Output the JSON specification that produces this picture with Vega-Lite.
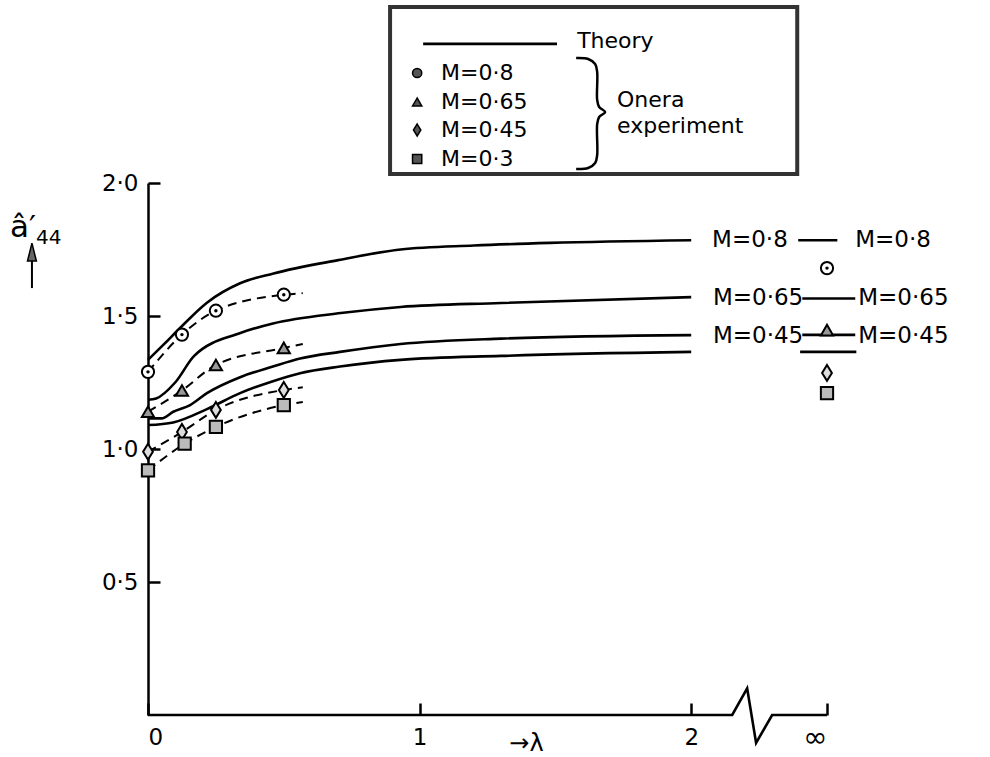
{
  "$schema": "https://vega.github.io/schema/vega-lite/v6.json",
  "width": 679,
  "height": 532,
  "autosize": {"type": "none"},
  "padding": {"left": 148, "top": 183, "right": 163, "bottom": 42},
  "background": "white",
  "config": {"view": {"stroke": null}, "font": "DejaVu Sans", "text": {"font": "DejaVu Sans"}},
  "datasets": {
    "theory": [
      {"M": "M=0·8", "lam": 0, "val": 1.335}, {"M": "M=0·8", "lam": 0.06, "val": 1.395}, {"M": "M=0·8", "lam": 0.118, "val": 1.455}, {"M": "M=0·8", "lam": 0.217, "val": 1.55}, {"M": "M=0·8", "lam": 0.339, "val": 1.623}, {"M": "M=0·8", "lam": 0.462, "val": 1.66}, {"M": "M=0·8", "lam": 0.7, "val": 1.71}, {"M": "M=0·8", "lam": 0.93, "val": 1.75}, {"M": "M=0·8", "lam": 1.2, "val": 1.765}, {"M": "M=0·8", "lam": 1.48, "val": 1.775}, {"M": "M=0·8", "lam": 2.0, "val": 1.785},
      {"M": "M=0·65", "lam": 0, "val": 1.185}, {"M": "M=0·65", "lam": 0.03, "val": 1.19}, {"M": "M=0·65", "lam": 0.1, "val": 1.25}, {"M": "M=0·65", "lam": 0.17, "val": 1.35}, {"M": "M=0·65", "lam": 0.34, "val": 1.436}, {"M": "M=0·65", "lam": 0.46, "val": 1.472}, {"M": "M=0·65", "lam": 0.71, "val": 1.511}, {"M": "M=0·65", "lam": 0.93, "val": 1.534}, {"M": "M=0·65", "lam": 1.3, "val": 1.549}, {"M": "M=0·65", "lam": 2.0, "val": 1.571},
      {"M": "M=0·45", "lam": 0, "val": 1.115}, {"M": "M=0·45", "lam": 0.05, "val": 1.115}, {"M": "M=0·45", "lam": 0.093, "val": 1.14}, {"M": "M=0·45", "lam": 0.155, "val": 1.165}, {"M": "M=0·45", "lam": 0.217, "val": 1.21}, {"M": "M=0·45", "lam": 0.339, "val": 1.27}, {"M": "M=0·45", "lam": 0.46, "val": 1.31}, {"M": "M=0·45", "lam": 0.56, "val": 1.34}, {"M": "M=0·45", "lam": 0.707, "val": 1.365}, {"M": "M=0·45", "lam": 0.93, "val": 1.395}, {"M": "M=0·45", "lam": 1.3, "val": 1.415}, {"M": "M=0·45", "lam": 2.0, "val": 1.428},
      {"M": "M=0·3", "lam": 0, "val": 1.09}, {"M": "M=0·3", "lam": 0.093, "val": 1.1}, {"M": "M=0·3", "lam": 0.217, "val": 1.15}, {"M": "M=0·3", "lam": 0.339, "val": 1.21}, {"M": "M=0·3", "lam": 0.46, "val": 1.255}, {"M": "M=0·3", "lam": 0.56, "val": 1.285}, {"M": "M=0·3", "lam": 0.707, "val": 1.31}, {"M": "M=0·3", "lam": 0.93, "val": 1.335}, {"M": "M=0·3", "lam": 1.3, "val": 1.35}, {"M": "M=0·3", "lam": 2.0, "val": 1.365}
    ],
    "exp": [
      {"M": "M=0·8", "lam": 0, "val": 1.29}, {"M": "M=0·8", "lam": 0.125, "val": 1.43}, {"M": "M=0·8", "lam": 0.25, "val": 1.52}, {"M": "M=0·8", "lam": 0.5, "val": 1.58}, {"M": "M=0·8", "lam": 2.5, "val": 1.68},
      {"M": "M=0·65", "lam": 0, "val": 1.14}, {"M": "M=0·65", "lam": 0.125, "val": 1.22}, {"M": "M=0·65", "lam": 0.25, "val": 1.316}, {"M": "M=0·65", "lam": 0.5, "val": 1.38}, {"M": "M=0·65", "lam": 2.5, "val": 1.447},
      {"M": "M=0·45", "lam": 0, "val": 0.99}, {"M": "M=0·45", "lam": 0.125, "val": 1.064}, {"M": "M=0·45", "lam": 0.25, "val": 1.147}, {"M": "M=0·45", "lam": 0.5, "val": 1.222}, {"M": "M=0·45", "lam": 2.5, "val": 1.286},
      {"M": "M=0·3", "lam": 0, "val": 0.92}, {"M": "M=0·3", "lam": 0.135, "val": 1.02}, {"M": "M=0·3", "lam": 0.25, "val": 1.083}, {"M": "M=0·3", "lam": 0.5, "val": 1.165}, {"M": "M=0·3", "lam": 2.5, "val": 1.21}
    ],
    "expLine": [
      {"M": "M=0·8", "lam": 0, "val": 1.29}, {"M": "M=0·8", "lam": 0.125, "val": 1.43}, {"M": "M=0·8", "lam": 0.25, "val": 1.52}, {"M": "M=0·8", "lam": 0.5, "val": 1.58}, {"M": "M=0·8", "lam": 0.57, "val": 1.586},
      {"M": "M=0·65", "lam": 0, "val": 1.14}, {"M": "M=0·65", "lam": 0.125, "val": 1.22}, {"M": "M=0·65", "lam": 0.25, "val": 1.316}, {"M": "M=0·65", "lam": 0.5, "val": 1.38}, {"M": "M=0·65", "lam": 0.57, "val": 1.395},
      {"M": "M=0·45", "lam": 0, "val": 0.99}, {"M": "M=0·45", "lam": 0.125, "val": 1.064}, {"M": "M=0·45", "lam": 0.25, "val": 1.147}, {"M": "M=0·45", "lam": 0.5, "val": 1.222}, {"M": "M=0·45", "lam": 0.57, "val": 1.232},
      {"M": "M=0·3", "lam": 0, "val": 0.92}, {"M": "M=0·3", "lam": 0.135, "val": 1.02}, {"M": "M=0·3", "lam": 0.25, "val": 1.083}, {"M": "M=0·3", "lam": 0.5, "val": 1.165}, {"M": "M=0·3", "lam": 0.57, "val": 1.177}
    ],
    "infLine": [
      {"M": "M=0·8", "lam": 2.394, "lam2": 2.538, "val": 1.785},
      {"M": "M=0·65", "lam": 2.409, "lam2": 2.604, "val": 1.566},
      {"M": "M=0·45", "lam": 2.409, "lam2": 2.604, "val": 1.429},
      {"M": "M=0·3", "lam": 2.401, "lam2": 2.608, "val": 1.365},
      {"M": "Theory", "lam": 1.013, "lam2": 1.506, "val": 2.523}
    ],
    "axisLine": [
      {"lam": 0, "val": 0}, {"lam": 2.151, "val": 0}, {"lam": 2.206, "val": 0.1}, {"lam": 2.239, "val": -0.105}, {"lam": 2.298, "val": 0}, {"lam": 2.5, "val": 0}
    ],
    "plotText": [
      {"lam": 2.077, "val": 1.786, "label": "M=0·8"}, {"lam": 2.604, "val": 1.786, "label": "M=0·8"},
      {"lam": 2.08, "val": 1.568, "label": "M=0·65"}, {"lam": 2.615, "val": 1.568, "label": "M=0·65"},
      {"lam": 2.08, "val": 1.425, "label": "M=0·45"}, {"lam": 2.615, "val": 1.425, "label": "M=0·45"}
    ],
    "yTitleMain": [{"lam": -0.5083, "val": 1.797, "label": "â′"}],
    "yTitleSub": [{"lam": -0.4125, "val": 1.771, "label": "44"}],
    "yArrow": [{"lam": -0.4273, "val": 1.605, "val2": 1.72}],
    "yArrowHead": [{"lam": -0.4273, "val": 1.73}],
    "legendSym": [
      {"M": "M=0·8", "lam": 0.991, "val": 2.4135}, {"M": "M=0·65", "lam": 0.991, "val": 2.3045}, {"M": "M=0·45", "lam": 0.991, "val": 2.1992}, {"M": "M=0·3", "lam": 0.991, "val": 2.0902}
    ],
    "legendText": [
      {"lam": 1.58, "val": 2.534, "label": "Theory"},
      {"lam": 1.079, "val": 2.4135, "label": "M=0·8"}, {"lam": 1.079, "val": 2.3045, "label": "M=0·65"}, {"lam": 1.079, "val": 2.1992, "label": "M=0·45"}, {"lam": 1.079, "val": 2.0902, "label": "M=0·3"},
      {"lam": 1.727, "val": 2.312, "label": "Onera"}, {"lam": 1.727, "val": 2.214, "label": "experiment"}
    ],
    "brace": [
      {"lam": 1.5764, "val": 2.4699}, {"lam": 1.6206, "val": 2.4662}, {"lam": 1.6464, "val": 2.4474}, {"lam": 1.6538, "val": 2.4173}, {"lam": 1.6538, "val": 2.312}, {"lam": 1.6611, "val": 2.2857}, {"lam": 1.6832, "val": 2.2669}, {"lam": 1.6611, "val": 2.2481}, {"lam": 1.6538, "val": 2.2218}, {"lam": 1.6538, "val": 2.1053}, {"lam": 1.6464, "val": 2.0752}, {"lam": 1.6206, "val": 2.0564}, {"lam": 1.5764, "val": 2.0526}
    ],
    "box": [
      {"lam": 0.8913, "lam2": 2.3904, "val": 2.6617, "val2": 2.0338}
    ]
  },
  "encoding": {
    "x": {
      "field": "lam", "type": "quantitative",
      "scale": {"domain": [0, 2.5], "nice": false, "zero": false},
      "axis": {
        "values": [0, 1, 2, 2.5], "domain": false, "grid": false,
        "tickSize": -12, "tickWidth": 2.5, "tickColor": "black",
        "labelExpr": "datum.value == 2.5 ? '∞' : format(datum.value, 'd')",
        "labelFontSize": {"condition": {"test": "datum.value == 2.5", "value": 29}, "value": 23},
        "labelBaseline": "middle",
        "labelColor": "black", "labelPadding": 34, "labelFont": "DejaVu Sans",
        "title": "→λ", "titleFontSize": 24, "titleFontWeight": "normal", "titleColor": "black", "titleFont": "DejaVu Sans",
        "titleX": 378, "titleY": 28, "titleAlign": "center", "titleBaseline": "middle"
      }
    },
    "y": {
      "field": "val", "type": "quantitative",
      "scale": {"domain": [0, 2], "nice": false, "zero": false},
      "axis": {
        "values": [0.5, 1, 1.5, 2], "grid": false,
        "domainColor": "black", "domainWidth": 2.5,
        "tickSize": -12, "tickWidth": 2.5, "tickColor": "black",
        "labelExpr": "replace(format(datum.value, '.1f'), '.', '·')",
        "labelFontSize": 23, "labelColor": "black", "labelPadding": 22, "labelFont": "DejaVu Sans",
        "title": null
      }
    }
  },
  "layer": [
    {"data": {"name": "axisLine"}, "mark": {"type": "line", "color": "black", "strokeWidth": 2.6}, "encoding": {}},
    {"data": {"name": "theory"}, "mark": {"type": "line", "interpolate": "monotone", "color": "black", "strokeWidth": 2.6}, "encoding": {"detail": {"field": "M"}}},
    {"data": {"name": "expLine"}, "mark": {"type": "line", "interpolate": "monotone", "color": "black", "strokeWidth": 2, "strokeDash": [9, 6]}, "encoding": {"detail": {"field": "M"}}},
    {"data": {"name": "infLine"}, "mark": {"type": "rule", "color": "black", "strokeWidth": 2.6}, "encoding": {"x2": {"field": "lam2"}}},
    {"data": {"name": "exp"}, "mark": {"type": "point", "filled": true, "stroke": "black", "strokeWidth": 2, "opacity": 1},
      "encoding": {
        "shape": {"field": "M", "type": "nominal", "scale": {"domain": ["M=0·8", "M=0·65", "M=0·45", "M=0·3"], "range": ["circle", "triangle-up", "M0,-1.3L0.8,0L0,1.3L-0.8,0Z", "square"]}, "legend": null},
        "fill": {"field": "M", "type": "nominal", "scale": {"domain": ["M=0·8", "M=0·65", "M=0·45", "M=0·3"], "range": ["white", "#999999", "#dddddd", "#bbbbbb"]}, "legend": null},
        "size": {"field": "M", "type": "nominal", "scale": {"domain": ["M=0·8", "M=0·65", "M=0·45", "M=0·3"], "range": [150, 150, 150, 105]}, "legend": null}
      }},
    {"data": {"name": "exp"}, "transform": [{"filter": "datum.M == 'M=0·8'"}], "mark": {"type": "point", "filled": true, "color": "black", "size": 12, "opacity": 1}, "encoding": {}},
    {"data": {"name": "plotText"}, "mark": {"type": "text", "align": "left", "baseline": "middle", "fontSize": 23, "color": "black"}, "encoding": {"text": {"field": "label"}}},
    {"data": {"name": "yTitleMain"}, "mark": {"type": "text", "align": "left", "baseline": "alphabetic", "fontSize": 31, "color": "black"}, "encoding": {"text": {"field": "label"}}},
    {"data": {"name": "yTitleSub"}, "mark": {"type": "text", "align": "left", "baseline": "alphabetic", "fontSize": 20, "color": "black"}, "encoding": {"text": {"field": "label"}}},
    {"data": {"name": "yArrow"}, "mark": {"type": "rule", "color": "black", "strokeWidth": 2}, "encoding": {"y2": {"field": "val2"}}},
    {"data": {"name": "yArrowHead"}, "mark": {"type": "point", "shape": "M0,-1.3L0.5,0.7L-0.5,0.7Z", "filled": true, "fill": "#666666", "stroke": "black", "strokeWidth": 1.5, "size": 320, "opacity": 1}, "encoding": {}},
    {"data": {"name": "box"}, "mark": {"type": "rect", "fill": "white", "fillOpacity": 0, "stroke": "#333333", "strokeWidth": 4}, "encoding": {"x2": {"field": "lam2"}, "y2": {"field": "val2"}}},
    {"data": {"name": "legendSym"}, "mark": {"type": "point", "filled": true, "fill": "#555555", "stroke": "black", "strokeWidth": 1.5, "opacity": 1, "size": 85},
      "encoding": {"shape": {"field": "M", "type": "nominal", "legend": null}}},
    {"data": {"name": "legendText"}, "mark": {"type": "text", "align": "left", "baseline": "middle", "fontSize": 22, "color": "black"}, "encoding": {"text": {"field": "label"}}},
    {"data": {"name": "brace"}, "mark": {"type": "line", "interpolate": "catmull-rom", "color": "black", "strokeWidth": 2.5}, "encoding": {"order": {"field": "val", "sort": "descending"}}}
  ]
}
